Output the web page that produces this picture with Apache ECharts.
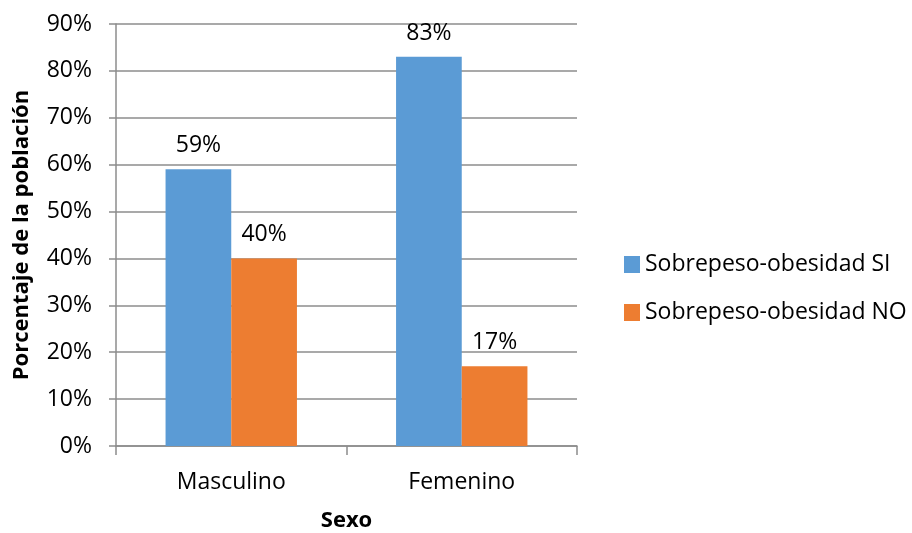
<!DOCTYPE html>
<html>
<head>
<meta charset="utf-8">
<script src="https://cdn.jsdelivr.net/npm/echarts@6/dist/echarts.min.js"></script>
<style>
  html, body { margin: 0; padding: 0; background: #fff; }
  #chart { width: 912px; height: 533px; }
</style>
</head>
<body>
<div id="chart"></div>
<script>
// Categories and series values (percent of population)
const categories = ['Masculino', 'Femenino'];
const seriesNames = ['Sobrepeso-obesidad SI', 'Sobrepeso-obesidad NO'];
const valuesSI = [59, 83];
const valuesNO = [40, 17];
const yTicks = { min: 0, max: 90, interval: 10 };

const FONT = '"Open Sans", "Noto Sans", sans-serif';
const GRID = '#8c8c8c';

const chart = echarts.init(document.getElementById('chart'), null, { renderer: 'canvas' });

const labelStyle = {
  show: true,
  position: 'top',
  distance: 12,
  color: '#000',
  fontFamily: FONT,
  fontSize: 23,
  formatter: p => Math.round(p.value) + '%'
};

chart.setOption({
  animation: false,
  backgroundColor: '#fff',
  grid: { left: 116, right: 335, top: 24, bottom: 87, outerBoundsMode: 'none', containLabel: false },
  legend: {
    orient: 'vertical',
    left: 619,
    top: 248,
    itemWidth: 16,
    itemHeight: 17,
    itemGap: 25,
    icon: 'rect',
    textStyle: { fontFamily: FONT, fontSize: 23, lineHeight: 22, color: '#000' },
    data: seriesNames
  },
  xAxis: {
    type: 'category',
    data: categories,
    name: 'Sexo',
    nameLocation: 'middle',
    nameGap: 64,
    nameTextStyle: { fontFamily: FONT, fontSize: 22, fontWeight: 'bold', color: '#000' },
    axisLine: { show: true, lineStyle: { color: GRID, width: 1.5 } },
    axisTick: { show: true, alignWithLabel: false, length: 9, lineStyle: { color: GRID, width: 1.5 } },
    axisLabel: { fontFamily: FONT, fontSize: 23, color: '#000', margin: 25 }
  },
  yAxis: {
    type: 'value',
    min: yTicks.min,
    max: yTicks.max,
    interval: yTicks.interval,
    name: 'Porcentaje de la población',
    nameLocation: 'middle',
    nameGap: 83,
    nameRotate: 90,
    nameTextStyle: { fontFamily: FONT, fontSize: 22, fontWeight: 'bold', color: '#000' },
    axisLine: { show: true, lineStyle: { color: GRID, width: 1.5 } },
    axisTick: { show: true, length: 7, lineStyle: { color: GRID, width: 1.5 } },
    axisLabel: { fontFamily: FONT, fontSize: 23, color: '#000', margin: 24, formatter: '{value}%' },
    splitLine: { show: true, lineStyle: { color: GRID, width: 1.5 } }
  },
  series: [
    {
      name: seriesNames[0],
      type: 'bar',
      data: valuesSI,
      barGap: '0%',
      barCategoryGap: '43%',
      itemStyle: { color: '#5b9bd5' },
      label: labelStyle
    },
    {
      name: seriesNames[1],
      type: 'bar',
      data: valuesNO,
      itemStyle: { color: '#ed7d31' },
      label: labelStyle
    }
  ]
});
</script>
</body>
</html>
